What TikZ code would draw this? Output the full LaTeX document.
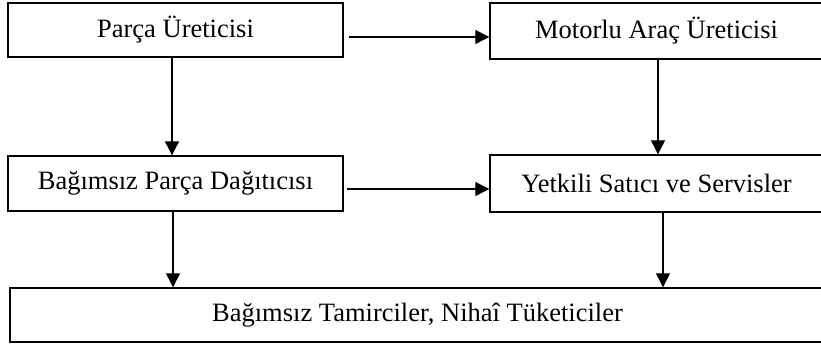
\documentclass[tikz,border=0pt]{standalone}
\usepackage{fontspec}
\setmainfont{Liberation Serif}
\usetikzlibrary{arrows.meta}
\tikzset{
  box/.style={draw, line width=1.4pt, inner sep=0pt, font=\fontsize{26.5}{30}\selectfont},
  arr/.style={line width=1.2pt, -{Triangle[length=14pt,width=14pt]}}
}
\begin{document}
\begin{tikzpicture}[x=1pt,y=1pt]
\useasboundingbox (0,0) rectangle (821,-347);
\node [box, minimum width=335, minimum height=54] (pu) at (175.5,-30) {Parça Üreticisi};
\node [box, minimum width=333, minimum height=56] (mau) at (656.5,-31) {Motorlu Araç Üreticisi};
\node [box, minimum width=335, minimum height=55] (bpd) at (175.5,-183.5) {Bağımsız Parça Dağıtıcısı};
\node [box, minimum width=333, minimum height=57] (yss) at (656.5,-183.5) {Yetkili Satıcı ve Servisler};
\node [box, minimum width=815, minimum height=54] (bt) at (417.5,-315) {Bağımsız Tamirciler, Nihaî Tüketiciler};
\draw [arr] ([xshift=5pt,yshift=-7pt]pu.east) -- ([yshift=-6pt]mau.west);
\draw [arr] ([xshift=3pt,yshift=-5.5pt]bpd.east) -- ([yshift=-5.5pt]yss.west);
\draw [arr] ([xshift=-3.5pt]pu.south) -- ([xshift=-3.5pt]bpd.north);
\draw [arr] ([xshift=1.5pt]mau.south) -- ([xshift=1.5pt]yss.north);
\draw [arr] ([xshift=-2.5pt]bpd.south) -- ([xshift=-2.5pt]bpd.south |- bt.north);
\draw [arr] ([xshift=6.5pt]yss.south) -- ([xshift=6.5pt]yss.south |- bt.north);
\end{tikzpicture}
\end{document}
